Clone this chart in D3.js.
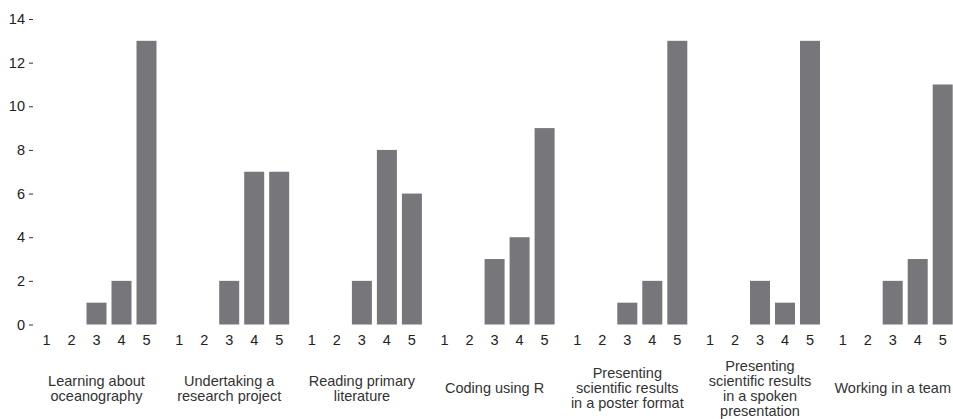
<!DOCTYPE html>
<html>
<head>
<meta charset="utf-8">
<script src="https://cdn.jsdelivr.net/npm/d3@7"></script>
<style>
  html, body { margin: 0; padding: 0; background: #fff; }
  svg { display: block; font-family: "Liberation Sans", Arial, Helvetica, sans-serif; }
</style>
</head>
<body>
<svg id="chart" width="953" height="419"></svg>
<script>
const categories = [
  "Learning about oceanography",
  "Undertaking a research project",
  "Reading primary literature",
  "Coding using R",
  "Presenting scientific results in a poster format",
  "Presenting scientific results in a spoken presentation",
  "Working in a team"
];
const categoryLines = [
  ["Learning about", "oceanography"],
  ["Undertaking a", "research project"],
  ["Reading primary", "literature"],
  ["Coding using R"],
  ["Presenting", "scientific results", "in a poster format"],
  ["Presenting", "scientific results", "in a spoken", "presentation"],
  ["Working in a team"]
];
const ratings = ["1", "2", "3", "4", "5"];
const counts = [
  [0, 0, 1, 2, 13],
  [0, 0, 2, 7, 7],
  [0, 0, 2, 8, 6],
  [0, 0, 3, 4, 9],
  [0, 0, 1, 2, 13],
  [0, 0, 2, 1, 13],
  [0, 0, 2, 3, 11]
];
const yTicks = [0, 2, 4, 6, 8, 10, 12, 14];

const svg = d3.select("#chart");
const y = d3.scaleLinear().domain([0, 14]).range([324.5, 19]);
const fx = d3.scaleBand().domain(categories).range([27.6, 27.6 + 7 * 132.7]).padding(0);
const x = d3.scaleBand().domain(ratings).range([6.4, 131.4]).paddingInner(0.2).paddingOuter(0.1);

// y axis
const yAxis = svg.append("g")
  .attr("transform", "translate(33,0)")
  .call(d3.axisLeft(y).tickValues(yTicks).tickSize(4).tickPadding(4));
yAxis.select(".domain").remove();
yAxis.selectAll(".tick line").attr("stroke", "#333");
yAxis.selectAll(".tick text").attr("fill", "#222").style("font-size", "14.5px");

categories.forEach((cat, i) => {
  const g = svg.append("g").attr("transform", `translate(${fx(cat)},0)`);
  const data = ratings.map((r, j) => ({ r, v: counts[i][j] }));
  g.selectAll("rect").data(data.filter(d => d.v > 0)).join("rect")
    .attr("x", d => x(d.r))
    .attr("width", x.bandwidth())
    .attr("y", d => y(d.v))
    .attr("height", d => y(0) - y(d.v))
    .attr("fill", "#77777b");

  const xa = g.append("g")
    .attr("transform", `translate(0,${y(0)})`)
    .call(d3.axisBottom(x).tickSize(0).tickPadding(10));
  xa.select(".domain").remove();
  xa.selectAll(".tick text").attr("fill", "#222").style("font-size", "14.5px");

  const lines = categoryLines[i];
  const cx = (x.range()[0] + x.range()[1]) / 2;
  const t = g.append("text")
    .attr("text-anchor", "middle")
    .attr("fill", "#333")
    .style("font-size", "14.5px");
  lines.forEach((ln, k) => {
    t.append("tspan")
      .attr("x", cx)
      .attr("y", 393 + (k - (lines.length - 1) / 2) * 15)
      .text(ln);
  });
});
</script>
</body>
</html>
